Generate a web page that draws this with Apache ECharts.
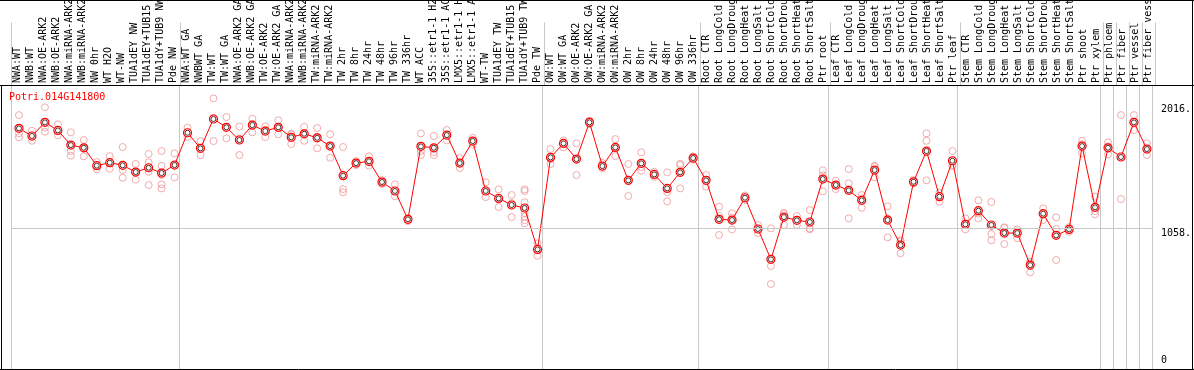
<!DOCTYPE html>
<html><head><meta charset="utf-8">
<script src="https://cdn.jsdelivr.net/npm/echarts@6/dist/echarts.min.js"></script>
<style>html,body{margin:0;padding:0;background:#fff}#c{width:1194px;height:370px}</style>
</head><body><div id="c"></div>
<script>
const geneId = 'Potri.014G141800';
const categories = [
 'NWA:WT','NWB:WT','NWA:OE-ARK2','NWB:OE-ARK2','NWA:miRNA-ARK2','NWB:miRNA-ARK2','NW 0hr','WT H2O','WT-NW','TUA1dEY NW','TUA1dEY+TUB15 NW','TUA1dY+TUB9 NW','Pde NW',
 'NWA:WT GA','NWBWT GA','TW:WT','TW:WT GA','NWA:OE-ARK2 GA','NWB:OE-ARK2 GA','TW:OE-ARK2','TW:OE-ARK2 GA','NWA:miRNA-ARK2 GA','NWB:miRNA-ARK2 GA','TW:miRNA-ARK2','TW:miRNA-ARK2 GA',
 'TW 2hr','TW 8hr','TW 24hr','TW 48hr','TW 96hr','TW 336hr','WT ACC','35S::etr1-1 H2O','35S::etr1-1 ACC','LMX5::etr1-1 H2O','LMX5::etr1-1 ACC','WT-TW','TUA1dEY TW','TUA1dEY+TUB15 TW','TUA1dY+TUB9 TW','Pde TW',
 'OW:WT','OW:WT GA','OW:OE-ARK2','OW:OE-ARK2 GA','OW:miRNA-ARK2','OW:miRNA-ARK2 GA','OW 2hr','OW 8hr','OW 24hr','OW 48hr','OW 96hr','OW 336hr',
 'Root CTR','Root LongCold','Root LongDrought','Root LongHeat','Root LongSalt','Root ShortCold','Root ShortDrought','Root ShortHeat','Root ShortSalt','Ptr root',
 'Leaf CTR','Leaf LongCold','Leaf LongDrought','Leaf LongHeat','Leaf LongSalt','Leaf ShortCold','Leaf ShortDrought','Leaf ShortHeat','Leaf ShortSalt','Ptr leaf',
 'Stem CTR','Stem LongCold','Stem LongDrought','Stem LongHeat','Stem LongSalt','Stem ShortCold','Stem ShortDrought','Stem ShortHeat','Stem ShortSalt','Ptr shoot','Ptr xylem',
 'Ptr phloem','Ptr fiber','Ptr vessel','Ptr fiber vessel'
];
const groupStarts = [0,13,41,53,63,73,84,85,86,87];
const means = [
 1829,1770,1875,1813,1700,1679,1541,1564,1544,1492,1525,1484,1546,
 1795,1675,1901,1837,1739,1854,1808,1837,1760,1787,1756,1692,1464,1561,1575,1415,1346,1128,1690,1679,1777,1561,1731,1346,1289,1238,1215,896,
 1605,1713,1592,1875,1538,1682,1428,1559,1474,1366,1490,1600,
 1428,1128,1122,1294,1053,819,1145,1120,1107,1438,
 1392,1351,1274,1507,1122,929,1417,1654,1302,1579,
 1089,1194,1084,1022,1022,775,1171,1004,1050,1692,1220,
 1679,1608,1875,1669
];
const replicates = [
 [1931,1790,1760],[1810,1762,1733],[1991,1834,1803],[1860,1808,1775],[1798,1654,1618],[1739,1675,1613],[1569,1538,1515],[1615,1561,1518],[1685,1507,1448],[1554,1492,1433],[1631,1567,1494,1392],[1654,1541,1469,1397,1366],[1636,1546,1451],
 [1834,1795,1762],[1731,1675,1623],[2060,1908,1731],[1916,1839,1752],[1844,1750,1623],[1903,1862,1798],[1844,1816,1762],[1891,1837,1783],[1787,1781,1708],[1841,1787,1733],[1831,1764,1675],[1783,1692,1602],
 [1685,1361,1336],[1577,1561,1546],[1613,1569,1541],[1430,1415,1400],[1397,1346,1305],[1138,1128,1114],[1790,1654,1623],[1770,1646,1623],[1816,1777,1736],[1600,1561,1523],[1756,1731,1706],[1413,1346,1299],[1359,1289,1222],[1315,1253,1145],[1359,1346,1259,1176,1148,1122,1097],[943,899,847],
 [1669,1592,1554],[1736,1713,1682],[1713,1592,1469],[1889,1875,1862],[1561,1538,1521],[1746,1685,1615],[1554,1423,1307],[1644,1531,1502],[1494,1474,1454],[1490,1338,1266],[1556,1546,1366],[1612,1600,1588],
 [1469,1430,1379],[1225,1153,1007],[1174,1141,1050],[1311,1294,1276],[1084,1053,1022],[1058,768,629],[1178,1168,1084],[1153,1122,1084],[1199,1058,1050],[1505,1467,1343],
 [1425,1392,1361],[1515,1405,1135],[1315,1289,1217],[1541,1531,1451],[1228,1135,989],[966,956,866],[1430,1417,1405],[1790,1733,1428],[1333,1307,1263],[1654,1546,1538],
 [1135,1089,1050],[1274,1172,1135],[1261,1014,966],[1066,1060,937],[1050,1034,981],[801,798,719],[1212,1176,1122],[1143,1053,814],[1068,1050,1032],[1733,1708,1636],[1302,1191,1166],
 [1721,1690,1628],[1931,1608,1284],[1931,1877,1816],[1713,1669,1623]
];
const yTickValues = [0, 1058, 2016];
const yTickLabels = ['0', '1058.', '2016.'];
const refLineValue = 1058;

const FONT = 'DejaVu Sans Mono';
const GRAY = '#c8c8c8';
const sepInterval = (idx) => groupStarts.indexOf(idx) >= 0;

const meanData = means.map((v, i) => [i, v]);
const repData = [];
replicates.forEach((arr, i) => arr.forEach(v => repData.push([i, v])));
const labelFor = v => yTickLabels[yTickValues.indexOf(v)];

const chart = echarts.init(document.getElementById('c'), null, {renderer: 'canvas'});
chart.setOption({
  animation: false,
  backgroundColor: '#fff',
  title: {text: geneId, left: 9, top: 92, padding: 0, textStyle: {color: '#ff0000', fontSize: 10, fontFamily: FONT, fontWeight: 'normal'}},
  grid: [
    {left: 11, top: 0, width: 1144, height: 85, containLabel: false},
    {left: 11, top: 85, width: 1144, height: 284, containLabel: false}
  ],
  xAxis: [
    {gridIndex: 0, type: 'category', data: categories, position: 'bottom', boundaryGap: true,
     axisLine: {show: false}, axisTick: {show: false},
     axisLabel: {inside: true, rotate: 90, interval: 0, margin: 2, fontFamily: FONT, fontSize: 10, color: '#000'},
     splitLine: {show: true, interval: sepInterval, lineStyle: {color: GRAY, width: 1}}},
    {gridIndex: 1, type: 'category', data: categories, position: 'top', boundaryGap: true,
     axisLine: {show: false}, axisTick: {show: false}, axisLabel: {show: false},
     splitLine: {show: true, interval: sepInterval, lineStyle: {color: GRAY, width: 1}}},
    {gridIndex: 1, type: 'value', min: -0.5 - 1.5/13, max: categories.length - 0.5 - 1.5/13, show: false}
  ],
  yAxis: [
    {gridIndex: 0, type: 'value', show: false},
    {gridIndex: 1, type: 'value', position: 'right', min: -26, max: 2163,
     axisLine: {show: false}, axisTick: {show: false}, splitLine: {show: false},
     axisLabel: {customValues: yTickValues.filter(v => v !== 0), verticalAlign: 'top', margin: 9,
       fontFamily: FONT, fontSize: 10, color: '#000', formatter: labelFor}},
    {gridIndex: 1, type: 'value', position: 'right', min: -26, max: 2163,
     axisLine: {show: false}, axisTick: {show: false}, splitLine: {show: false},
     axisLabel: {customValues: yTickValues.filter(v => v === 0), verticalAlign: 'bottom', margin: 9,
       fontFamily: FONT, fontSize: 10, color: '#000', formatter: labelFor}}
  ],
  series: [
    {type: 'line', xAxisIndex: 2, yAxisIndex: 1, data: [], z: 1, silent: true,
     markLine: {silent: true, symbol: 'none', label: {show: false}, lineStyle: {color: GRAY, type: 'solid', width: 1},
       data: [{yAxis: refLineValue}]}},
    {type: 'scatter', xAxisIndex: 2, yAxisIndex: 1, data: repData, z: 2, silent: true,
     symbol: 'circle', symbolSize: 7,
     itemStyle: {color: 'rgba(255,255,255,0)', borderColor: '#ef9696', borderWidth: 1}},
    {type: 'line', xAxisIndex: 2, yAxisIndex: 1, data: meanData, z: 3, silent: true,
     symbol: 'circle', symbolSize: 8, showAllSymbol: true,
     lineStyle: {color: '#ff0000', width: 1},
     itemStyle: {color: '#fff', borderColor: '#ff0000', borderWidth: 1.2}},
    {type: 'scatter', xAxisIndex: 2, yAxisIndex: 1, data: meanData, z: 4, silent: true,
     symbol: 'circle', symbolSize: 5,
     itemStyle: {color: 'rgba(255,255,255,0)', borderColor: '#200000', borderWidth: 1}}
  ],
  graphic: [
    {type: 'line', shape: {x1: 0, y1: 0.5, x2: 1194, y2: 0.5}, style: {stroke: '#000', lineWidth: 1}, z: 100},
    {type: 'line', shape: {x1: 0, y1: 85.5, x2: 1194, y2: 85.5}, style: {stroke: '#000', lineWidth: 1}, z: 100},
    {type: 'line', shape: {x1: 0, y1: 369.5, x2: 1194, y2: 369.5}, style: {stroke: '#000', lineWidth: 1}, z: 100},
    {type: 'line', shape: {x1: 1.5, y1: 85, x2: 1.5, y2: 370}, style: {stroke: '#000', lineWidth: 1}, z: 100},
    {type: 'line', shape: {x1: 1192.5, y1: 0, x2: 1192.5, y2: 370}, style: {stroke: '#000', lineWidth: 1}, z: 100}
  ]
});
</script></body></html>
